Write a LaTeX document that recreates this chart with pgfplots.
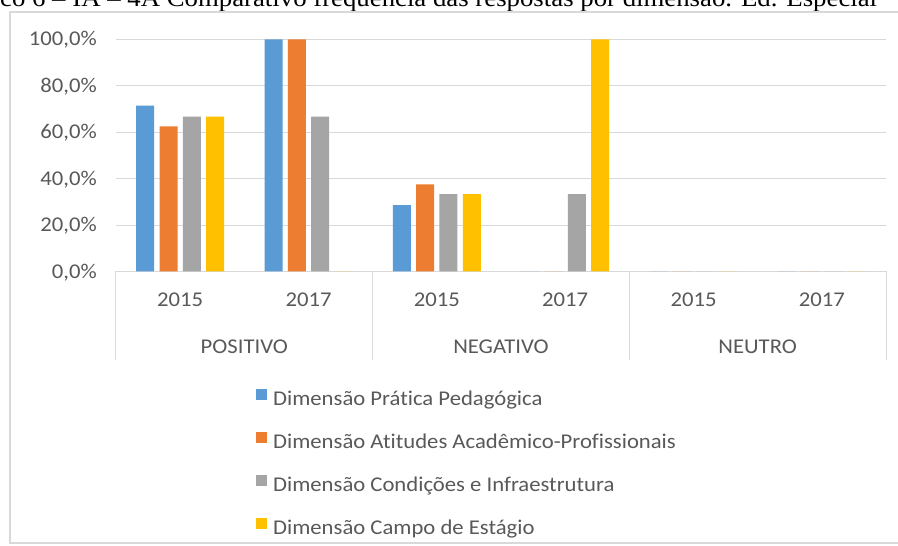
\documentclass[border=0pt]{standalone}
\usepackage{pgfplots}
\pgfplotsset{compat=1.18}
\usepackage{fontspec}
\setmainfont{Carlito}[FakeStretch=1.08, Ligatures=NoCommon]
\newfontfamily\timesf{Liberation Serif}[FakeStretch=1.08]
\definecolor{cblue}{HTML}{5B9BD5}
\definecolor{corange}{HTML}{ED7D31}
\definecolor{cgray}{HTML}{A5A5A5}
\definecolor{cyellow}{HTML}{FFC000}
\definecolor{gridc}{HTML}{D9D9D9}
\definecolor{txt}{HTML}{595959}
\begin{document}
\begin{tikzpicture}
\useasboundingbox (0pt,0pt) rectangle (898pt,546pt);
\fill[white] (0pt,0pt) rectangle (898pt,546pt);
\node[anchor=base west, inner sep=0pt, font=\timesf\fontsize{24.8}{29}\selectfont] at (0pt,539pt) {\llap{Gráfi}co 6 – IA – 4A Comparativo frequência das respostas por dimensão. Ed. Especial};
\draw[gridc, line width=1.3pt] (10pt,3pt) rectangle (910pt,534pt);
\begin{axis}[
  at={(116pt,274.5pt)}, anchor=south west, scale only axis,
  width=770pt, height=232.2pt,
  xmin=-0.5, xmax=5.5, ymin=0, ymax=100,
  ybar=5.3pt, bar width=18pt,
  axis line style={draw=none},
  ymajorgrids, grid style={gridc, line width=1pt},
  ytick={0,20,...,100},
  yticklabels={{0,0\%},{20,0\%},{40,0\%},{60,0\%},{80,0\%},{100,0\%}},
  xtick={0,...,5}, xticklabels={2015,2017,2015,2017,2015,2017},
  major tick length=0pt,
  tick label style={font=\fontsize{21}{25}\selectfont, text=txt, inner sep=0pt},
  yticklabel style={anchor=base east, xshift=-19pt, yshift=-6.6pt},
  xticklabel style={anchor=base, yshift=-35.5pt},
  clip=false,
  legend cell align=left,
  legend style={at={(0.1818,-0.506)}, anchor=north west, draw=none, fill=none,
    inner sep=0pt, row sep=22pt, font=\fontsize{21}{25}\selectfont, text=txt,
    nodes={inner sep=0pt, text height=15pt, text depth=5pt},
    /tikz/every odd column/.append style={column sep=6pt}},
  legend image code/.code={\fill[#1] (0pt,0pt) rectangle (11pt,11pt);},
]
\addplot[fill=cblue, draw=none] coordinates {(0,71.4) (1,100) (2,28.6) (3,0) (4,0) (5,0)};
\addplot[fill=corange, draw=none] coordinates {(0,62.5) (1,100) (2,37.5) (3,0) (4,0) (5,0)};
\addplot[fill=cgray, draw=none] coordinates {(0,66.7) (1,66.7) (2,33.3) (3,33.3) (4,0) (5,0)};
\addplot[fill=cyellow, draw=none] coordinates {(0,66.7) (1,0) (2,33.3) (3,100) (4,0) (5,0)};
\legend{Dimensão Prática Pedagógica, Dimensão Atitudes Acadêmico-Profissionais, Dimensão Condições e Infraestrutura, Dimensão Campo de Estágio}
\draw[gridc, line width=1pt] (axis cs:-0.5,0) -- ++(0pt,-88.5pt);
\draw[gridc, line width=1pt] (axis cs:1.5,0) -- ++(0pt,-88.5pt);
\draw[gridc, line width=1pt] (axis cs:3.5,0) -- ++(0pt,-88.5pt);
\draw[gridc, line width=1pt] (axis cs:5.5,0) -- ++(0pt,-88.5pt);
\path (axis cs:0.5,0) ++(0pt,-82.5pt) node[anchor=base, inner sep=0pt, font=\fontsize{21}{25}\selectfont, text=txt] {POSITIVO};
\path (axis cs:2.5,0) ++(0pt,-82.5pt) node[anchor=base, inner sep=0pt, font=\fontsize{21}{25}\selectfont, text=txt] {NEGATIVO};
\path (axis cs:4.5,0) ++(0pt,-82.5pt) node[anchor=base, inner sep=0pt, font=\fontsize{21}{25}\selectfont, text=txt] {NEUTRO};
\end{axis}
\end{tikzpicture}
\end{document}
